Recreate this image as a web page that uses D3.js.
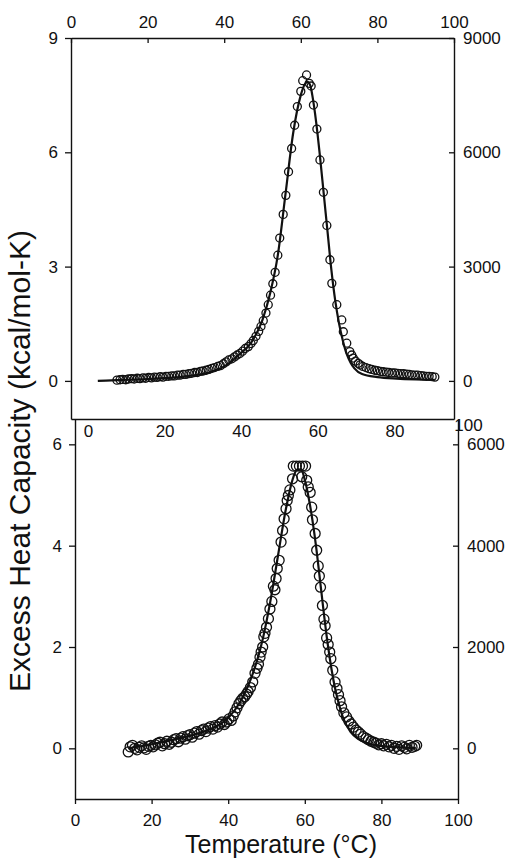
<!DOCTYPE html>
<html>
<head>
<meta charset="utf-8">
<script src="https://cdn.jsdelivr.net/npm/d3@7"></script>
<style>
  body { margin: 0; background: #fff; }
  svg text { font-family: "Liberation Sans", Arial, Helvetica, sans-serif; fill: #111; }
</style>
</head>
<body>
<script>
// upper panel: measured points (temperature, excess Cp)
var topTemp = [12.0, 12.8, 13.5, 14.3, 15.0, 15.8, 16.5, 17.3, 18.0, 18.8, 19.5, 20.3, 21.0, 21.8, 22.5,
  23.3, 24.0, 24.8, 25.5, 26.3, 27.0, 27.8, 28.5, 29.3, 30.0, 30.8, 31.5, 32.3, 33.0, 33.8, 34.5, 35.3,
  36.0, 36.8, 37.5, 38.3, 39.0, 39.8, 40.5, 41.2, 42.0, 42.7, 43.4, 44.1, 44.8, 45.5, 46.3, 47.0, 47.6,
  48.3, 49.0, 49.6, 50.2, 50.9, 51.5, 52.1, 52.7, 53.3, 54.0, 54.5, 55.4, 56.1, 56.8, 57.6, 58.4, 59.1,
  60.0, 60.5, 61.5, 62.2, 62.7, 63.3, 64.2, 65.0, 65.9, 66.8, 67.6, 68.1, 69.4, 70.7, 71.1, 72.0, 72.8,
  73.3, 73.7, 74.3, 75.0, 75.5, 76.2, 77.0, 77.8, 78.5, 79.3, 80.0, 80.8, 81.5, 82.3, 83.0, 83.8, 84.5,
  85.3, 86.0, 86.8, 87.6, 88.3, 89.0, 89.8, 90.5, 91.3, 92.0, 92.8, 93.5, 94.3, 95.0];
var topCp = [0.02, 0.03, 0.04, 0.03, 0.05, 0.06, 0.05, 0.07, 0.06, 0.08, 0.07, 0.09, 0.08, 0.10, 0.09,
  0.11, 0.10, 0.12, 0.12, 0.13, 0.13, 0.15, 0.15, 0.17, 0.17, 0.19, 0.20, 0.22, 0.22, 0.25, 0.26, 0.28,
  0.30, 0.33, 0.35, 0.38, 0.40, 0.45, 0.50, 0.55, 0.58, 0.63, 0.68, 0.72, 0.78, 0.85, 0.90, 0.98, 1.06,
  1.17, 1.30, 1.43, 1.58, 1.78, 2.00, 2.25, 2.55, 2.85, 3.30, 3.75, 4.37, 4.87, 5.49, 6.10, 6.71, 7.20,
  7.60, 7.88, 8.03, 7.81, 7.74, 7.24, 6.61, 5.80, 4.95, 4.08, 3.18, 2.56, 2.00, 1.60, 1.29, 0.99, 0.77,
  0.68, 0.60, 0.52, 0.46, 0.42, 0.38, 0.35, 0.32, 0.30, 0.28, 0.27, 0.25, 0.24, 0.23, 0.22, 0.21, 0.21,
  0.20, 0.19, 0.19, 0.18, 0.17, 0.16, 0.15, 0.15, 0.14, 0.13, 0.12, 0.12, 0.11, 0.10];

// upper panel: fitted curve
var topFitTemp = [7, 12, 20, 30, 36, 40, 44, 47, 50, 52, 54, 56, 58, 60, 61, 61.7, 62.5, 63, 64, 65, 66,
  67, 68, 69, 70, 71, 72, 73, 74, 76, 80, 85, 90, 95];
var topFitCp = [0, 0.02, 0.05, 0.12, 0.22, 0.38, 0.7, 1.0, 1.6, 2.3, 3.3, 4.9, 6.5, 7.5, 7.78, 7.85, 7.75,
  7.5, 6.8, 5.9, 4.9, 3.9, 2.9, 2.1, 1.5, 1.05, 0.7, 0.48, 0.33, 0.18, 0.1, 0.06, 0.04, 0.03];

// lower panel: measured points
var botTemp = [13.9, 14.4, 15.0, 15.6, 16.2, 16.8, 17.4, 18.0, 18.6, 19.2, 19.8, 20.4, 21.0, 21.6, 22.2,
  22.8, 23.4, 24.0, 24.6, 25.2, 25.8, 26.4, 27.0, 27.6, 28.2, 28.8, 29.4, 30.0, 30.6, 31.2, 31.8, 32.4,
  33.0, 33.6, 34.2, 34.8, 35.4, 36.0, 36.6, 37.2, 37.8, 38.4, 39.0, 39.6, 40.2, 40.8, 41.3, 41.8, 42.3,
  42.8, 43.3, 43.8, 44.3, 44.8, 45.2, 45.8, 46.4, 47.0, 47.5, 47.9, 48.3, 48.6, 49.0, 49.3, 49.6, 50.0,
  50.5, 50.9, 51.4, 51.8, 52.2, 52.5, 52.8, 53.3, 53.8, 54.2, 54.6, 55.1, 55.4, 55.7, 56.1, 56.8, 57.0,
  57.8, 58.6, 59.4, 60.2, 59.2, 60.5, 60.9, 61.4, 61.8, 62.0, 62.7, 63.1, 63.5, 63.8, 64.1, 64.6, 65.0,
  65.3, 65.7, 66.1, 66.5, 66.8, 67.3, 67.9, 68.4, 68.8, 69.2, 69.6, 70.2, 70.9, 71.5, 72.1, 72.7, 73.4,
  74.0, 74.6, 75.3, 76.0, 76.6, 77.3, 78.0, 78.6, 79.3, 80.0, 80.6, 81.3, 82.0, 82.6, 83.3, 84.0, 84.6,
  85.3, 86.0, 86.6, 87.3, 88.0, 88.7, 89.2];
var botCp = [-0.07, 0.03, 0.06, 0.00, -0.03, 0.02, 0.05, 0.01, -0.02, 0.04, 0.06, 0.03, 0.07, 0.10, 0.12,
  0.05, 0.09, 0.14, 0.08, 0.12, 0.17, 0.19, 0.13, 0.20, 0.23, 0.18, 0.25, 0.27, 0.22, 0.30, 0.33, 0.28,
  0.35, 0.38, 0.33, 0.40, 0.43, 0.38, 0.45, 0.42, 0.48, 0.52, 0.47, 0.52, 0.58, 0.55, 0.64, 0.72, 0.80,
  0.88, 0.94, 0.99, 1.02, 1.07, 1.12, 1.20, 1.31, 1.48, 1.58, 1.66, 1.80, 1.90, 2.00, 2.20, 2.27, 2.39,
  2.56, 2.75, 2.90, 3.20, 3.13, 3.35, 3.55, 3.71, 4.07, 4.30, 4.53, 4.73, 4.89, 4.99, 5.10, 5.32, 5.57,
  5.57, 5.57, 5.57, 5.57, 5.36, 5.29, 5.16, 5.05, 4.76, 4.51, 4.24, 3.91, 3.60, 3.40, 3.18, 2.82, 2.55,
  2.42, 2.18, 2.05, 1.90, 1.77, 1.54, 1.31, 1.18, 1.06, 0.94, 0.82, 0.70, 0.62, 0.54, 0.48, 0.42, 0.36,
  0.32, 0.28, 0.23, 0.20, 0.17, 0.14, 0.12, 0.10, 0.07, 0.09, 0.05, 0.08, 0.03, 0.06, 0.00, 0.04, -0.02,
  0.05, 0.02, -0.01, 0.06, 0.02, 0.04, 0.06];

// lower panel: fitted curve
var botFitTemp = [14, 20, 30, 36, 40, 43, 45, 47, 49, 51, 53, 55, 57, 58, 59, 60, 61, 62, 63, 64, 65,
  66, 67, 68, 69, 70, 72, 74, 77, 80, 85, 89];
var botFitCp = [0, 0.08, 0.25, 0.4, 0.6, 0.9, 1.2, 1.6, 2.15, 2.9, 3.8, 4.7, 5.35, 5.5, 5.5, 5.3, 4.95,
  4.5, 3.95, 3.3, 2.65, 2.05, 1.55, 1.15, 0.85, 0.6, 0.32, 0.18, 0.09, 0.05, 0.02, 0.01];

// tick values
var tempTicks = [0, 20, 40, 60, 80, 100];
var innerTempTicks = [0, 20, 40, 60, 80, 100];
var topLeftTicks = [0, 3, 6, 9];
var topRightTicks = [0, 3000, 6000, 9000];
var botLeftTicks = [0, 2, 4, 6];
var botRightTicks = [0, 2000, 4000, 6000];

var width = 513, height = 863;
var svg = d3.select('body').append('svg')
  .attr('width', width)
  .attr('height', height);

// scales (the two panels in the scan are shifted a few px from each other)
var topX = d3.scaleLinear().domain([0, 100]).range([71, 454]);
var topY = d3.scaleLinear().domain([-1, 9]).range([419, 38]);
var topY2 = d3.scaleLinear().domain([-1000, 9000]).range([419, 38]);
var botX = d3.scaleLinear().domain([0, 100]).range([75, 458]);
var botY = d3.scaleLinear().domain([-1, 6.5]).range([799, 419]);
var botY2 = d3.scaleLinear().domain([-1000, 6500]).range([799, 419]);

var plain = d3.format('d');

function styleAxis(g) {
  g.selectAll('path.domain').attr('stroke', '#111').attr('stroke-width', 1.4);
  g.selectAll('.tick line').attr('stroke', '#111').attr('stroke-width', 1.3);
  g.selectAll('.tick text').style('font-size', '17px').attr('fill', '#111');
}

// ---- upper panel axes ----
svg.append('g').attr('transform', 'translate(0,38)')
  .call(d3.axisTop(topX).tickValues(tempTicks).tickSize(-5).tickSizeOuter(0).tickPadding(10))
  .call(styleAxis);
svg.append('g').attr('transform', 'translate(71,0)')
  .call(d3.axisLeft(topY).tickValues(topLeftTicks).tickSize(6).tickSizeOuter(0).tickPadding(7))
  .call(styleAxis);
svg.append('g').attr('transform', 'translate(454,0)')
  .call(d3.axisRight(topY2).tickValues(topRightTicks).tickFormat(plain)
    .tickSize(-5).tickSizeOuter(0).tickPadding(9))
  .call(styleAxis);

// ---- lower panel axes ----
svg.append('g').attr('transform', 'translate(0,799)')
  .call(d3.axisBottom(botX).tickValues(tempTicks).tickSize(5).tickSizeOuter(0).tickPadding(10))
  .call(styleAxis);
svg.append('g').attr('transform', 'translate(75,0)')
  .call(d3.axisLeft(botY).tickValues(botLeftTicks).tickSize(6).tickSizeOuter(0).tickPadding(7))
  .call(styleAxis);
svg.append('g').attr('transform', 'translate(458,0)')
  .call(d3.axisRight(botY2).tickValues(botRightTicks).tickFormat(plain)
    .tickSize(-5).tickSizeOuter(0).tickPadding(9))
  .call(styleAxis);

// divider between the panels, with its temperature labels sitting just under it
svg.append('g').attr('transform', 'translate(0,419)')
  .call(d3.axisBottom(topX).tickValues([]).tickSizeOuter(0))
  .call(styleAxis);
var inner = svg.append('g').attr('transform', 'translate(13,419)')
  .call(d3.axisBottom(botX).tickValues(innerTempTicks).tickSize(0).tickPadding(6))
  .call(styleAxis);
inner.select('path.domain').remove();
inner.selectAll('.tick')
  .filter(function(d) { return d == 100; })
  .select('text').attr('y', 0).attr('dx', '-3');

// ---- fitted lines ----
var topLine = d3.line()
  .x(function(d, i) { return topX(topFitTemp[i]); })
  .y(function(d) { return topY(d); })
  .curve(d3.curveMonotoneX);
svg.append('path')
  .attr('d', topLine(topFitCp))
  .attr('fill', 'none')
  .attr('stroke', '#111')
  .attr('stroke-width', 2.2);

var botLine = d3.line()
  .x(function(d, i) { return botX(botFitTemp[i]); })
  .y(function(d) { return botY(d); })
  .curve(d3.curveMonotoneX);
svg.append('path')
  .attr('d', botLine(botFitCp))
  .attr('fill', 'none')
  .attr('stroke', '#111')
  .attr('stroke-width', 2.2);

// ---- open circles ----
svg.append('g').selectAll('circle')
  .data(topCp)
  .enter()
  .append('circle')
    .attr('cx', function(d, i) { return topX(topTemp[i]); })
    .attr('cy', function(d) { return topY(d); })
    .attr('r', 4)
    .attr('fill', 'none')
    .attr('stroke', '#111')
    .attr('stroke-width', 1.3);

svg.append('g').selectAll('circle')
  .data(botCp)
  .enter()
  .append('circle')
    .attr('cx', function(d, i) { return botX(botTemp[i]); })
    .attr('cy', function(d) { return botY(d); })
    .attr('r', 5)
    .attr('fill', 'none')
    .attr('stroke', '#111')
    .attr('stroke-width', 1.3);

// ---- axis titles ----
svg.append('text')
  .attr('x', 281)
  .attr('y', 853)
  .attr('text-anchor', 'middle')
  .style('font-size', '25px')
  .text('Temperature (°C)');

svg.append('text')
  .attr('transform', 'translate(30,461) rotate(-90)')
  .attr('text-anchor', 'middle')
  .style('font-size', '30px')
  .text('Excess Heat Capacity (kcal/mol-K)');
</script>
</body>
</html>
